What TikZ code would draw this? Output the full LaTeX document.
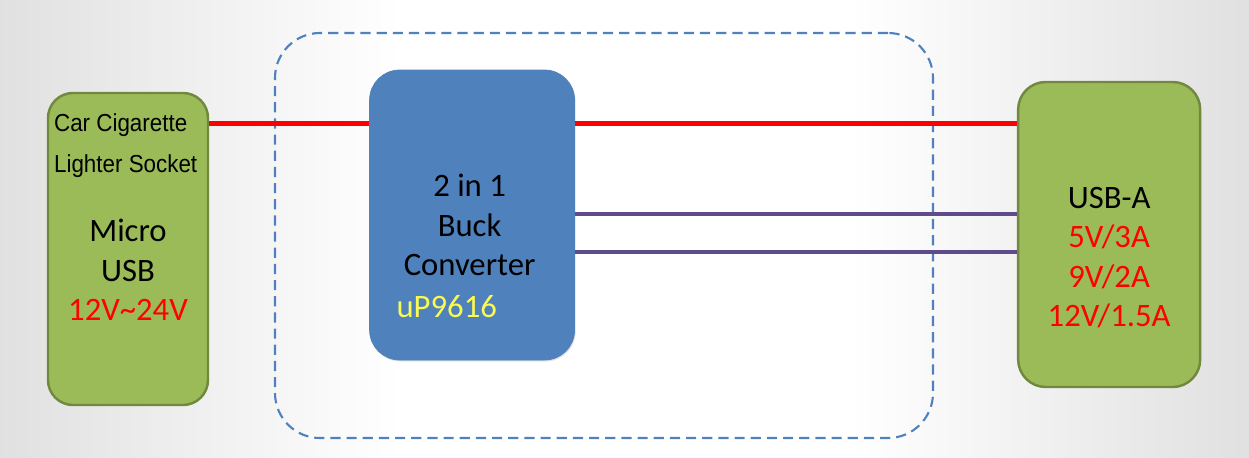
\documentclass[tikz,border=0pt]{standalone}
\usepackage{fontspec}
\setmainfont{Carlito}
\newfontfamily\narrowsans{Liberation Sans}[FakeStretch=0.91]
\usetikzlibrary{positioning,shadows}
\definecolor{leaf}{HTML}{9BBB59}
\definecolor{leafedge}{HTML}{71893F}
\definecolor{steel}{HTML}{4F81BD}
\definecolor{plum}{HTML}{5F4B8B}
\definecolor{chipyellow}{HTML}{FAFA50}

\begin{document}
\begin{tikzpicture}[
  node distance=10mm,
  portbox/.style={draw=leafedge,line width=1.4pt,fill=leaf,rounded corners=5mm},
  chipbox/.style={fill=steel,draw=steel,rounded corners=6mm,drop shadow={opacity=0.25,shadow xshift=0.6pt,shadow yshift=-0.8pt}},
  zone/.style={draw=steel,line width=1.2pt,dash pattern=on 5.8pt off 3.4pt,rounded corners=9mm},
  txt/.style={align=center,inner sep=0pt,font={\fontsize{18.6}{22.4}\selectfont}},
  tag/.style={align=left,inner sep=0pt,font={\narrowsans\fontsize{14}{22.8}\selectfont}},
  pwr/.style={red,line width=2.6pt},
  bus/.style={plum,line width=2.2pt}]
\useasboundingbox (0,0) rectangle (24.98,9.14);
\fill[white] (0,0) rectangle (24.98,9.14);
\shade[left color=black!12,right color=white] (0,0) rectangle (8,9.14);
\shade[left color=white,right color=black!12] (17,0) rectangle (24.98,9.14);
\node[zone,minimum width=13.16cm,minimum height=8.1cm] (frame) at (12.08,4.43) {};
\node[portbox,minimum width=3.2cm,minimum height=6.24cm] (lsock) at (2.56,4.16) {};
\node[chipbox,minimum width=4.1cm,minimum height=5.8cm,right=3.2cm of lsock,yshift=6.8mm] (buck) {};
\node[portbox,rounded corners=5.5mm,minimum width=3.64cm,minimum height=6.1cm,right=8.84cm of buck,yshift=-3.9mm] (usba) {};
\node[tag,anchor=north west] (ltag) at ([xshift=1.4mm,yshift=-4.4mm]lsock.north west) {Car Cigarette\\Lighter Socket};
\node[txt] (lmain) at ([yshift=-4.2mm]lsock.center) {Micro\\USB\\\textcolor{red}{12V\textasciitilde24V}};
\node[txt] (bmain) at ([xshift=-0.5mm,yshift=-2mm]buck.center) {2 in 1\\Buck\\Converter};
\node[txt,anchor=base west,text=chipyellow] (chip) at ([xshift=5.4mm,yshift=-20.4mm]buck.west) {uP9616};
\node[txt] (rmain) at ([yshift=-4.6mm]usba.center) {USB-A\\\textcolor{red}{5V/3A}\\\textcolor{red}{9V/2A}\\\textcolor{red}{12V/1.5A}};
\coordinate (tap) at ([yshift=-6.4mm]lsock.north east);
\draw[pwr] (tap) -- (tap -| buck.west);
\draw[pwr] (tap -| buck.east) -- (tap -| usba.west);
\draw[bus] ([yshift=0.2mm]buck.east) -- ([yshift=0.2mm]buck.east -| usba.west);
\draw[bus] ([yshift=-7.4mm]buck.east) -- ([yshift=-7.4mm]buck.east -| usba.west);
\end{tikzpicture}
\end{document}
